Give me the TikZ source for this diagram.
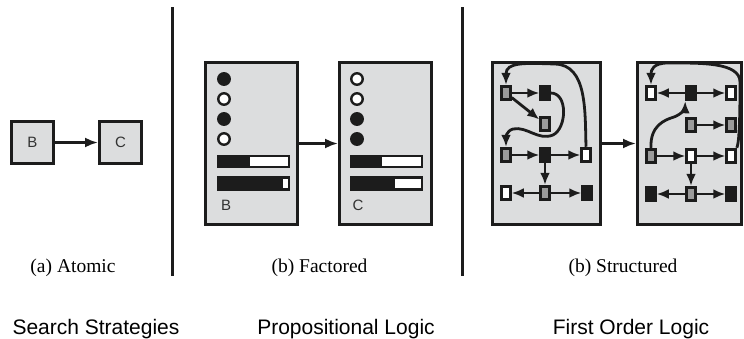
\documentclass[tikz,border=0pt]{standalone}
\usepackage{fontspec}
\setmainfont{Liberation Serif}
\setsansfont{Liberation Sans}
\usepackage{tikz}
\usetikzlibrary{ arrows.meta, % For the filled arrow tips
                 positioning, % For easy node-relative placements
               }
\definecolor{panelgray}{RGB}{220,221,222}
\definecolor{midgray}{RGB}{155,155,155}
\definecolor{inkblack}{RGB}{28,28,28}

\begin{document}
\begin{tikzpicture}[x=1pt, y=-1pt,
    every node/.style={inner sep=0pt},
    state/.style={draw=inkblack, line width=3pt, fill=panelgray, minimum size=42pt,
                  font=\sffamily\fontsize{15}{18}\selectfont, text=black!80},
    panel/.style={draw=inkblack, line width=3pt, fill=panelgray, minimum height=162pt},
    bit/.style={circle, draw=inkblack, line width=2.4pt, minimum size=11.5pt},
    sq/.style={draw=inkblack, line width=3pt, minimum width=8.5pt, minimum height=13.5pt},
    gsq/.style={sq, fill=midgray},
    bsq/.style={sq, fill=inkblack},
    wsq/.style={sq, fill=white},
    arr/.style={draw=inkblack, line width=2.4pt, -{Latex[length=13pt,width=10pt]}},
    sarr/.style={draw=inkblack, line width=2.8pt, -{Latex[length=12pt,width=10pt]}},
    caption/.style={anchor=base, font=\fontsize{19.5}{22}\selectfont},
    logic/.style={anchor=base, font=\sffamily\fontsize{21}{24}\selectfont},
    barline/.style={draw=inkblack, line width=2.8pt, fill=white},
  ]
  \useasboundingbox (0,0) rectangle (744,338);

  % separators
  \draw[inkblack, line width=3pt] (172,7) -- (172,276);
  \draw[inkblack, line width=3pt] (462,7) -- (462,276);

  % atomic
  \node[state] (b_atom) at (32.5,142.5) {B};
  \node[state] (c_atom) at (120.5,142.5) {C};
  \draw[arr] (b_atom) -- (c_atom);

  % factored
  \node[panel, minimum width=92pt] (b_fact) at (251.5,143.5) {};
  \node[panel, minimum width=92pt] (c_fact) at (385.5,143.5) {};
  \draw[arr] (b_fact) -- (c_fact);

  \node[bit, fill=inkblack] (b_one) at (224,79) {};
  \node[bit, fill=white] (b_two) at (224,99) {};
  \node[bit, fill=inkblack] (b_three) at (224,119) {};
  \node[bit, fill=white] (b_four) at (224,139) {};
  \node[bit, fill=white] (c_one) at (357,79) {};
  \node[bit, fill=white] (c_two) at (357,99) {};
  \node[bit, fill=inkblack] (c_three) at (357,119) {};
  \node[bit, fill=inkblack] (c_four) at (357,139) {};

  \draw[barline] (218,156) rectangle (289,167);
  \fill[inkblack] (218,156) rectangle (250,167);
  \draw[barline] (218,177.5) rectangle (289,189.5);
  \fill[inkblack] (218,177.5) rectangle (283,189.5);
  \draw[barline] (351,156) rectangle (422,167);
  \fill[inkblack] (351,156) rectangle (382,167);
  \draw[barline] (351,177.5) rectangle (422,189.5);
  \fill[inkblack] (351,177.5) rectangle (395,189.5);

  \node[font=\sffamily\fontsize{15}{18}\selectfont, text=black!80] (b_lab) at (226,205) {B};
  \node[font=\sffamily\fontsize{15}{18}\selectfont, text=black!80] (c_lab) at (358,205) {C};

  % structured
  \node[panel, minimum width=108pt] (b_str) at (546.5,143.5) {};
  \node[panel, minimum width=104pt] (c_str) at (689.5,143.5) {};
  \draw[arr] (b_str) -- (c_str);

  \node[gsq] (b_n1) at (506,93) {};
  \node[bsq] (b_n2) at (545,93) {};
  \node[gsq] (b_n3) at (545,124) {};
  \node[gsq] (b_n4) at (506,155) {};
  \node[bsq] (b_n5) at (545,155) {};
  \node[wsq] (b_n6) at (586,155) {};
  \node[wsq] (b_n7) at (506,193) {};
  \node[gsq] (b_n8) at (545,193) {};
  \node[bsq] (b_n9) at (587,193) {};

  \draw[sarr] (b_n1) -- (b_n2);
  \draw[sarr] (b_n1) -- (b_n3);
  \draw[sarr] (b_n4) -- (b_n5);
  \draw[sarr] (b_n5) -- (b_n6);
  \draw[sarr] (b_n5) -- (b_n8);
  \draw[sarr] (b_n8) -- (b_n7);
  \draw[sarr] (b_n8) -- (b_n9);
  \draw[sarr] (b_n2.east) .. controls (568,93) and (567,128) .. (553,135)
        .. controls (538,141) and (527,126) .. (513,129)
        .. controls (506,131) and (506,138) .. (b_n4.north);
  \draw[sarr] (b_n6.north) .. controls (585,110) and (587,65) .. (555,64)
        .. controls (525,63) and (506,62) .. (b_n1.north);

  \node[wsq] (c_n1) at (651,93) {};
  \node[bsq] (c_n2) at (691,93) {};
  \node[wsq] (c_n3) at (731,93) {};
  \node[gsq] (c_n4) at (691,125) {};
  \node[gsq] (c_n5) at (731,125) {};
  \node[gsq] (c_n6) at (651,156) {};
  \node[wsq] (c_n7) at (691,156) {};
  \node[wsq] (c_n8) at (731,156) {};
  \node[bsq] (c_n9) at (651,194) {};
  \node[gsq] (c_n10) at (691,194) {};
  \node[bsq] (c_n11) at (731,194) {};

  \draw[sarr] (c_n2) -- (c_n1);
  \draw[sarr] (c_n2) -- (c_n3);
  \draw[sarr] (c_n4) -- (c_n5);
  \draw[sarr] (c_n6) -- (c_n7);
  \draw[sarr] (c_n7) -- (c_n8);
  \draw[sarr] (c_n7) -- (c_n10);
  \draw[sarr] (c_n10) -- (c_n9);
  \draw[sarr] (c_n10) -- (c_n11);
  \draw[sarr] (c_n6.north) .. controls (650,126) and (664,120) .. (674,117)
        .. controls (682,114) and (685,108) .. (c_n2.south west);
  \draw[sarr] (c_n8.north east) .. controls (740,142) and (740,100) .. (740,82)
        .. controls (740,62) and (700,63) .. (668,63)
        .. controls (653,63) and (651,70) .. (c_n1.north);

  % captions
  \node[caption] (atomic) at (73,272) {(a) Atomic};
  \node[caption] (factored) at (319.5,272) {(b) Factored};
  \node[caption] (structured) at (623,272) {(b) Structured};

  \node[logic] (search) at (96,334) {Search Strategies};
  \node[logic] (prop) at (346,334) {Propositional Logic};
  \node[logic] (fol) at (631,334) {First Order Logic};
\end{tikzpicture}
\end{document}
